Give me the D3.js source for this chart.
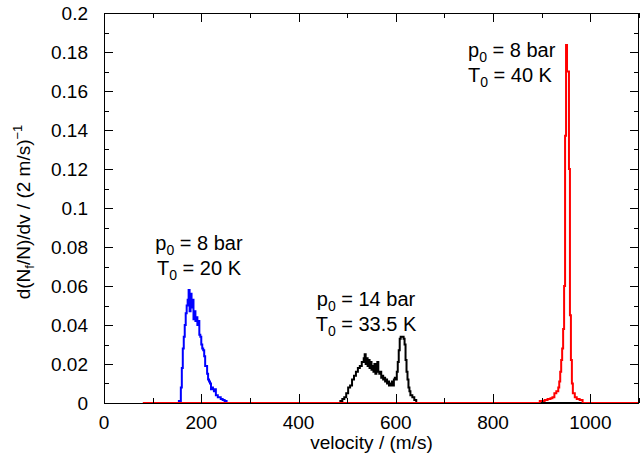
<!DOCTYPE html>
<html><head><meta charset="utf-8">
<script src="https://cdn.jsdelivr.net/npm/d3@7"></script>
<style>body{margin:0;background:#fff}svg{display:block}text{font-family:"Liberation Sans",Arial,sans-serif;fill:#000}</style>
</head><body>
<script>
// Data: velocity (m/s) and d(Nf/N)/dv values
const blueV = [100,150,154,158,160,162,164,166,168,170,172,174,176,178,180,182,184,186,188,190,192,194,196,198,200,202,204,206,208,210,212,214,216,218,220,222,224,226,228,230,232,234,236,240,244,248,252,300];
const blueY = [0,0,0.001,0.008,0.018,0.028,0.034,0.040,0.046,0.050,0.053,0.058,0.047,0.056,0.049,0.053,0.043,0.047,0.042,0.044,0.040,0.042,0.035,0.034,0.030,0.028,0.027,0.024,0.019,0.019,0.015,0.012,0.011,0.010,0.007,0.008,0.007,0.006,0.007,0.004,0.004,0.003,0.003,0.002,0.0015,0.001,0,0];
const blackV = [80,480,486,490,494,498,502,506,510,514,518,522,526,530,534,536,538,540,542,544,546,548,550,552,554,556,558,560,562,564,566,568,570,572,574,576,578,580,582,584,586,588,590,592,594,596,598,600,602,604,606,608,610,612,614,616,618,620,622,624,626,628,630,634,638,642,1100];
const blackY = [0,0,0.001,0.002,0.003,0.005,0.008,0.009,0.012,0.014,0.016,0.018,0.019,0.021,0.023,0.025,0.020,0.023,0.019,0.022,0.018,0.021,0.017,0.019,0.016,0.020,0.015,0.019,0.021,0.016,0.015,0.016,0.013,0.014,0.012,0.013,0.011,0.012,0.010,0.011,0.009,0.010,0.009,0.011,0.009,0.012,0.013,0.012,0.016,0.021,0.027,0.033,0.034,0.034,0.034,0.033,0.030,0.022,0.016,0.012,0.008,0.006,0.004,0.003,0.0015,0,0];
const redV = [80,880,896,906,912,918,922,926,930,934,936,938,940,942,944,946,948,950,952,954,956,958,960,962,964,968,972,978,984,1100];
const redY = [0,0,0.001,0.0015,0.002,0.0025,0.003,0.005,0.006,0.008,0.011,0.016,0.022,0.028,0.038,0.060,0.137,0.1836,0.170,0.170,0.120,0.045,0.022,0.010,0.005,0.003,0.002,0.0015,0,0];
const xMajor = [0,200,400,600,800,1000];
const xMinor = [100,300,500,700,900,1100];
const yMajor = [0,0.02,0.04,0.06,0.08,0.1,0.12,0.14,0.16,0.18,0.2];
const yMinor = [0.01,0.03,0.05,0.07,0.09,0.11,0.13,0.15,0.17,0.19];
const yLabels = ["0","0.02","0.04","0.06","0.08","0.1","0.12","0.14","0.16","0.18","0.2"];

const W=641,H=459;
const L=104,R=639,T=13,B=403;
const x=d3.scaleLinear().domain([0,1100]).range([L,R]);
const y=d3.scaleLinear().domain([0,0.2]).range([B,T]);
const svg=d3.select("body").append("svg").attr("width",W).attr("height",H);

// series
const line=d3.line().x(d=>x(d[0])).y(d=>y(d[1])).curve(d3.curveStepAfter);
const series=[[blueV,blueY,"#0000ff"],[blackV,blackY,"#000000"],[redV,redY,"#ff0000"]];
const g=svg.append("g");
series.forEach(([v,val,c])=>{
  g.append("path").datum(v.map((d,i)=>[d,val[i]])).attr("d",line)
   .attr("fill","none").attr("stroke",c).attr("stroke-width",2).attr("stroke-linejoin","miter");
});

// frame
svg.append("rect").attr("x",L+0.5).attr("y",T+0.5).attr("width",R-L-1).attr("height",B-T)
  .attr("fill","none").attr("stroke","#000").attr("stroke-width",1);

// ticks (inward, mirrored)
const tg=svg.append("g").attr("stroke","#000").attr("stroke-width",1);
function xt(v,len){
  const px=Math.round(x(v))+0.5;
  tg.append("line").attr("x1",px).attr("x2",px).attr("y1",B).attr("y2",B-len);
  tg.append("line").attr("x1",px).attr("x2",px).attr("y1",T).attr("y2",T+len);
}
function yt(v,len){
  const py=Math.round(y(v))+0.5;
  tg.append("line").attr("x1",L).attr("x2",L+len).attr("y1",py).attr("y2",py);
  tg.append("line").attr("x1",R).attr("x2",R-len).attr("y1",py).attr("y2",py);
}
xMajor.forEach(v=>xt(v,9)); xMinor.forEach(v=>xt(v,5));
yMajor.forEach(v=>yt(v,9)); yMinor.forEach(v=>yt(v,5));

// tick labels
xMajor.forEach(v=>svg.append("text").attr("x",x(v)).attr("y",B+26).attr("text-anchor","middle").attr("font-size",19).text(v));
yMajor.forEach((v,i)=>svg.append("text").attr("x",L-16).attr("y",y(v)+7).attr("text-anchor","end").attr("font-size",19).text(yLabels[i]));

// axis titles
svg.append("text").attr("x",(L+R)/2).attr("y",449).attr("text-anchor","middle").attr("font-size",19).text("velocity / (m/s)");
const yt2=svg.append("text").attr("transform","translate(30,212) rotate(-90)").attr("text-anchor","middle").attr("font-size",19);
yt2.append("tspan").text("d(N");
yt2.append("tspan").attr("font-size",13).attr("dy",4).text("f");
yt2.append("tspan").attr("dy",-4).text("/N)/dv / (2 m/s)");
yt2.append("tspan").attr("font-size",13).attr("dy",-8).text("−1");

// annotations
function ann(cx,y0,p,t,anchor){
  const a=svg.append("text").attr("x",cx).attr("y",y0).attr("text-anchor",anchor).attr("font-size",20);
  a.append("tspan").text("p");
  a.append("tspan").attr("font-size",14).attr("dy",5).text("0");
  a.append("tspan").attr("dy",-5).text(" = "+p);
  const b=svg.append("text").attr("x",cx).attr("y",y0+25).attr("text-anchor",anchor).attr("font-size",20);
  b.append("tspan").text("T");
  b.append("tspan").attr("font-size",14).attr("dy",5).text("0");
  b.append("tspan").attr("dy",-5).text(" = "+t);
}
ann(199,250,"8 bar","20 K","middle");
ann(366,306,"14 bar","33.5 K","middle");
ann(468,57,"8 bar","40 K","start");
</script>
</body></html>
